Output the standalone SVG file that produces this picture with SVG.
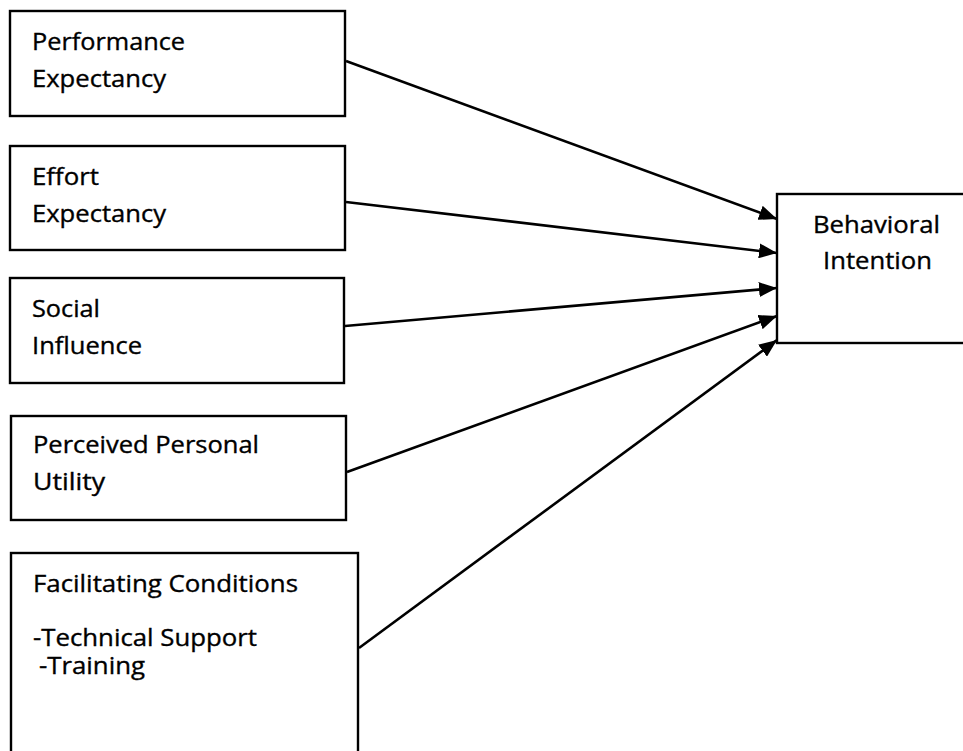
<svg xmlns="http://www.w3.org/2000/svg" width="963" height="751" viewBox="0 0 963 751">
<style>
.box{fill:#fff;stroke:#000;stroke-width:2.4}
.t{font-family:"Open Sans","Liberation Sans",sans-serif;font-size:23px;fill:#000;stroke:#000;stroke-width:0.35}
.c{stroke:#000;stroke-width:2.6;fill:none;marker-end:url(#ah)}
</style>
<defs>
<marker id="ah" markerWidth="18" markerHeight="15" refX="18" refY="7.5" orient="auto" markerUnits="userSpaceOnUse">
<path d="M0,0 L18,7.5 L0,15 Z" fill="#000"/>
</marker>
</defs>
<rect width="963" height="751" fill="#fff"/>
<g id="performance-expectancy">
<rect class="box" x="10" y="11" width="335" height="105"/>
<text class="t" x="32" y="50" textLength="153" lengthAdjust="spacingAndGlyphs">Performance</text>
<text class="t" x="32" y="87" textLength="134" lengthAdjust="spacingAndGlyphs">Expectancy</text>
</g>
<g id="effort-expectancy">
<rect class="box" x="10" y="146" width="335" height="104"/>
<text class="t" x="32" y="185" textLength="67" lengthAdjust="spacingAndGlyphs">Effort</text>
<text class="t" x="32" y="222" textLength="134" lengthAdjust="spacingAndGlyphs">Expectancy</text>
</g>
<g id="social-influence">
<rect class="box" x="10" y="278" width="334" height="105"/>
<text class="t" x="32" y="317" textLength="68" lengthAdjust="spacingAndGlyphs">Social</text>
<text class="t" x="32" y="354" textLength="110" lengthAdjust="spacingAndGlyphs">Influence</text>
</g>
<g id="perceived-personal-utility">
<rect class="box" x="11" y="416" width="335" height="104"/>
<text class="t" x="33" y="453" textLength="226" lengthAdjust="spacingAndGlyphs">Perceived Personal</text>
<text class="t" x="33" y="490" textLength="72" lengthAdjust="spacingAndGlyphs">Utility</text>
</g>
<g id="facilitating-conditions">
<rect class="box" x="11" y="553" width="347" height="210"/>
<text class="t" x="33" y="592" textLength="265" lengthAdjust="spacingAndGlyphs">Facilitating Conditions</text>
<text class="t" x="33" y="646" textLength="224" lengthAdjust="spacingAndGlyphs">-Technical Support</text>
<text class="t" x="39" y="674" textLength="106" lengthAdjust="spacingAndGlyphs">-Training</text>
</g>
<g id="behavioral-intention">
<rect class="box" x="777" y="194" width="200" height="149"/>
<text class="t" x="813" y="233" textLength="127" lengthAdjust="spacingAndGlyphs">Behavioral</text>
<text class="t" x="823" y="269" textLength="109" lengthAdjust="spacingAndGlyphs">Intention</text>
</g>
<g id="connectors">
<line class="c" x1="346" y1="61" x2="777" y2="219"/>
<line class="c" x1="346" y1="202" x2="777" y2="253"/>
<line class="c" x1="345" y1="326" x2="777" y2="288"/>
<line class="c" x1="347" y1="472" x2="777" y2="316"/>
<line class="c" x1="359" y1="648" x2="777" y2="340"/>
</g>
</svg>
